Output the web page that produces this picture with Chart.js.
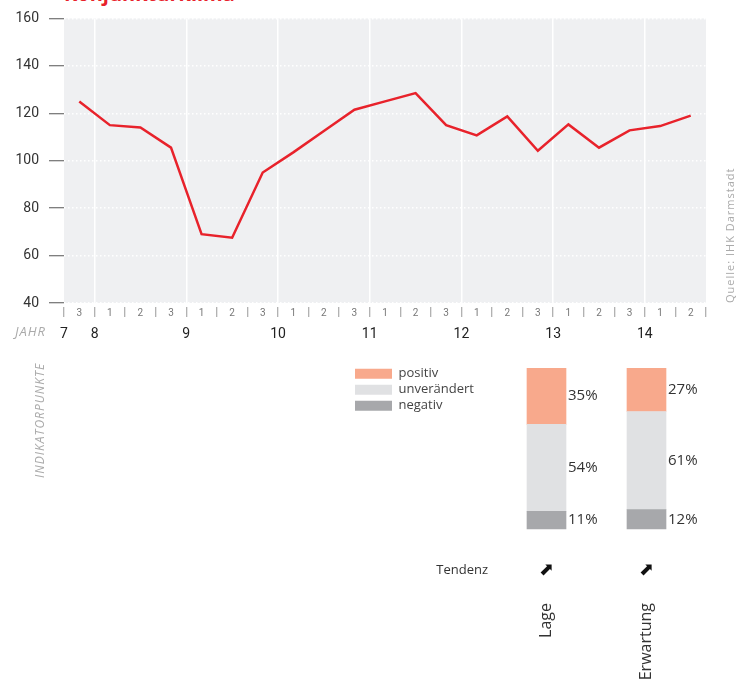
<!DOCTYPE html>
<html>
<head>
<meta charset="utf-8">
<script src="https://cdn.jsdelivr.net/npm/chart.js@4.4.1/dist/chart.umd.min.js"></script>
<style>
  html, body { margin: 0; padding: 0; background: #fff; }
  body { width: 742px; height: 681px; position: relative; overflow: hidden; }
  #title { position: absolute; left: 64px; top: -18px; font: bold 20px "Open Sans"; line-height: 24px; color: #e8222b; white-space: nowrap; }
  #lineWrap { position: absolute; left: 0; top: 0; width: 742px; height: 681px; }
  #barWrap { position: absolute; left: 340px; top: 355px; width: 402px; height: 326px; }
</style>
</head>
<body>
<div id="title">Konjunkturklima</div>
<div id="lineWrap"><canvas id="line"></canvas></div>
<div id="barWrap"><canvas id="bars"></canvas></div>
<script>
// Konjunkturklima, Indikatorpunkte je Umfrage (Jahr / Umfrage 1-3)
const periods = ['3', '1', '2', '3', '1', '2', '3', '1', '2', '3', '1', '2', '3', '1', '2', '3', '1', '2', '3', '1', '2'];
const klima = [125, 115, 114, 105.5, 69, 67.5, 95, 103.5, 112.5, 121.5, 125, 128.5, 115, 110.7, 118.7, 104.2, 115.3, 105.5, 112.8, 114.6, 119];
const yearLabels = ['7', '8', '9', '10', '11', '12', '13', '14'];
const yearStarts = [0, 1, 4, 7, 10, 13, 16, 19];

// Lage / Erwartung
const barLabels = ['Lage', 'Erwartung'];
const positiv = [35, 27];
const unveraendert = [54, 61];
const negativ = [11, 12];
const tendenz = ['⬈', '⬈'];

const grey = '#aaa';
const asPoints = (arr) => arr.map((v, i) => ({ x: i, y: v }));

const lineExtras = {
  id: 'lineExtras',
  beforeDraw(chart) {
    const { ctx, chartArea: a } = chart;
    ctx.save();
    ctx.fillStyle = '#eff0f2';
    ctx.fillRect(a.left, a.top, a.right - a.left, a.bottom - a.top);
    ctx.restore();
  },
  afterDraw(chart) {
    const ctx = chart.ctx;
    const yr = chart.scales.years;
    ctx.save();
    ctx.fillStyle = grey;
    ctx.letterSpacing = '1px';
    ctx.font = 'italic 13px "Open Sans"';
    ctx.textAlign = 'right';
    ctx.textBaseline = 'middle';
    ctx.fillText('JAHR', 46, yr.top + 9);

    ctx.save();
    ctx.translate(41, 478);
    ctx.rotate(-Math.PI / 2);
    ctx.textAlign = 'left';
    ctx.font = 'italic 12px "Open Sans"';
    ctx.fillText('INDIKATORPUNKTE', 0, 0);
    ctx.restore();

    ctx.save();
    ctx.translate(731, chart.chartArea.bottom);
    ctx.rotate(-Math.PI / 2);
    ctx.textAlign = 'left';
    ctx.font = '11px "Open Sans"';
    ctx.fillText('Quelle: IHK Darmstadt', 0, 0);
    ctx.restore();
    ctx.restore();
  }
};

new Chart(document.getElementById('line'), {
  type: 'line',
  data: {
    labels: periods,
    datasets: [{
      data: klima,
      borderColor: '#e8222b',
      borderWidth: 2.5,
      pointRadius: 0,
      tension: 0,
      fill: false
    }]
  },
  options: {
    responsive: true,
    maintainAspectRatio: false,
    animation: false,
    layout: { padding: { top: 16, right: 36, left: 0, bottom: 334 } },
    plugins: { legend: { display: false }, tooltip: { enabled: false } },
    scales: {
      y: {
        min: 40, max: 160,
        afterFit(s) { s.width = 64; },
        ticks: { stepSize: 20, color: '#333', padding: 10, font: { family: 'Roboto', size: 14 } },
        grid: {
          color: '#fff', lineWidth: 1.5, tickLength: 15, tickColor: '#555', tickWidth: 1,
          tickBorderDash: []
        },
        border: { display: false, dash: [1.5, 2.5] }
      },
      x: {
        weight: 0,
        offset: true,
        afterFit(s) { s.height = 20; },
        ticks: { color: '#777', padding: -10, autoSkip: false, maxRotation: 0, font: { family: 'Roboto', size: 10 } },
        grid: {
          offset: true,
          color: (c) => (c.index > 0 && yearStarts.includes(c.index)) ? '#fff' : 'rgba(0,0,0,0)',
          lineWidth: 1.5,
          tickLength: 14, tickColor: '#999', tickWidth: 1,
          tickBorderDash: [0, 4, 10, 60]
        },
        border: { display: false }
      },
      years: {
        type: 'linear', position: 'bottom', weight: 1,
        min: 0, max: periods.length,
        afterFit(s) { s.height = 24; },
        afterBuildTicks(s) { s.ticks = yearStarts.map(v => ({ value: v })); },
        ticks: {
          autoSkip: false, maxRotation: 0, padding: 3, color: '#222',
          font: { family: 'Roboto', size: 14 },
          callback: (v) => yearLabels[yearStarts.indexOf(v)]
        },
        grid: { display: false, drawTicks: false },
        border: { display: false }
      }
    }
  },
  plugins: [lineExtras]
});

const barExtras = {
  id: 'barExtras',
  afterDatasetsDraw(chart) {
    const ctx = chart.ctx;
    ctx.save();
    ctx.fillStyle = '#333';
    ctx.font = '15px "Open Sans"';
    ctx.textAlign = 'left';
    ctx.textBaseline = 'middle';
    chart.data.datasets.forEach((ds, i) => {
      chart.getDatasetMeta(i).data.forEach((el, j) => {
        ctx.fillText(ds.data[j].y + '%', el.x + el.width / 2 + 2, (el.y + el.base) / 2);
      });
    });
    ctx.restore();
  },
  afterDraw(chart) {
    const ctx = chart.ctx;
    const xs = chart.scales.x;
    ctx.save();
    ctx.fillStyle = '#333';
    ctx.font = '13px "Open Sans"';
    ctx.textAlign = 'right';
    ctx.textBaseline = 'middle';
    ctx.fillText('Tendenz', 148, 215);
    ctx.textAlign = 'center';
    ctx.fillStyle = '#111';
    ctx.font = '18px "DejaVu Sans"';
    tendenz.forEach((t, i) => ctx.fillText(t, xs.getPixelForValue(i), 215));
    ctx.restore();
  }
};

new Chart(document.getElementById('bars'), {
  type: 'bar',
  data: {
    datasets: [
      { label: 'negativ', data: asPoints(negativ), backgroundColor: '#a7a8ab' },
      { label: 'unverändert', data: asPoints(unveraendert), backgroundColor: '#e0e1e3' },
      { label: 'positiv', data: asPoints(positiv), backgroundColor: '#f8a98c' }
    ]
  },
  options: {
    responsive: true,
    maintainAspectRatio: false,
    animation: false,
    datasets: { bar: { barThickness: 39, borderWidth: 0 } },
    layout: { padding: { top: 13, right: 45, left: 12, bottom: 0 } },
    plugins: {
      tooltip: { enabled: false },
      legend: {
        position: 'chartArea', align: 'start', reverse: true,
        title: { display: true, text: ' ', font: { size: 6 }, padding: { top: 1, bottom: 1 } },
        labels: {
          boxWidth: 37, boxHeight: 10, padding: 3, color: '#444',
          font: { family: 'Open Sans', size: 13, lineHeight: 1.2 }
        }
      }
    },
    scales: {
      x: {
        type: 'linear', stacked: true, offset: false,
        min: -1.945, max: 1.505,
        afterFit(s) { s.height = 82; },
        afterBuildTicks(s) { s.ticks = barLabels.map((_, i) => ({ value: i })); },
        ticks: {
          autoSkip: false, minRotation: 90, maxRotation: 90, padding: 4, color: '#333',
          font: { family: 'Open Sans', size: 16 },
          callback: (v) => barLabels[v]
        },
        grid: { display: false, drawTicks: false },
        border: { display: false }
      },
      y: {
        // extra room below 0 keeps the Tendenz row inside the plot, labels sit below it
        stacked: true, min: -43.5, max: 100, display: false
      }
    }
  },
  plugins: [barExtras]
});
</script>
</body>
</html>
